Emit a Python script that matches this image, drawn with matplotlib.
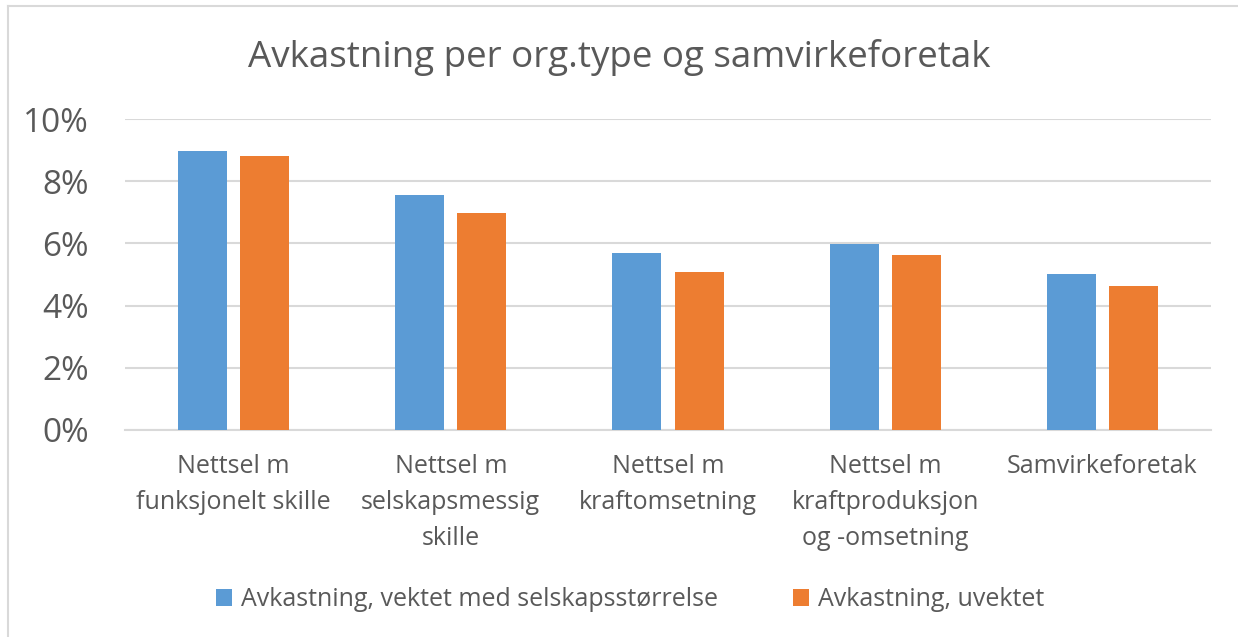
import matplotlib
matplotlib.use("Agg")
import matplotlib.pyplot as plt
from matplotlib.lines import Line2D
import numpy as np

# Data
kategorier = ["Nettsel m\nfunksjonelt skille", "Nettsel m\nselskapsmessig\nskille",
              "Nettsel m\nkraftomsetning", "Nettsel m\nkraftproduksjon\nog -omsetning",
              "Samvirkeforetak"]
vektet = [8.97, 7.56, 5.70, 5.98, 5.02]
uvektet = [8.81, 6.98, 5.08, 5.64, 4.64]
serie_navn = ["Avkastning, vektet med selskapsstørrelse", "Avkastning, uvektet"]
yticks = [0, 2, 4, 6, 8, 10]

BLA = "#5b9bd5"
ORANSJE = "#ed7d31"
GRA = "#595959"
GRID = "#d9d9d9"

plt.rcParams["font.family"] = ["Open Sans", "DejaVu Sans"]

fig = plt.figure(figsize=(12.38, 6.37), dpi=100)
ax = fig.add_axes([125 / 1238, 1 - 430 / 637, (1211 - 125) / 1238, (430 - 119) / 637])

x = np.arange(len(kategorier))
bredde = 0.226
avstand = 0.06
ax.bar(x - (bredde + avstand) / 2, vektet, bredde, color=BLA, label=serie_navn[0], zorder=3)
ax.bar(x + (bredde + avstand) / 2, uvektet, bredde, color=ORANSJE, label=serie_navn[1], zorder=3)

ax.set_xlim(-0.5, len(kategorier) - 0.5)
ax.set_ylim(0, 10)
ax.set_yticks(yticks)
ax.set_yticklabels([f"{v}%" for v in yticks], fontsize=24, color=GRA)
ax.set_xticks(x)
ax.set_xticklabels(kategorier, fontsize=18, color=GRA, linespacing=1.6, va="top")
ax.tick_params(length=0)
ax.tick_params(axis="y", pad=26)
ax.tick_params(axis="x", pad=17)
ax.grid(axis="y", color=GRID, linewidth=1.5, zorder=0)
for s in ["top", "right", "left"]:
    ax.spines[s].set_visible(False)
ax.spines["bottom"].set_color(GRID)
ax.spines["bottom"].set_linewidth(1.5)

fig.text(0.5, 1 - 57 / 637, "Avkastning per org.type og samvirkeforetak",
         ha="center", va="center", fontsize=26.5, color=GRA)

fig.legend(loc="center", bbox_to_anchor=(630 / 1238, 1 - 600 / 637), ncol=2,
           frameon=False, fontsize=18, handlelength=0.65, handleheight=0.65,
           handletextpad=0.35, columnspacing=3.0, labelcolor=GRA)

# chart border (left and top edges visible in the reference)
fig.add_artist(Line2D([8 / 1238, 8 / 1238], [0, 1 - 6 / 637], color=GRID, linewidth=1.5,
                      transform=fig.transFigure))
fig.add_artist(Line2D([8 / 1238, 1], [1 - 6 / 637, 1 - 6 / 637], color=GRID, linewidth=1.5,
                      transform=fig.transFigure))

fig.savefig("out.png", dpi=100, facecolor="white")
